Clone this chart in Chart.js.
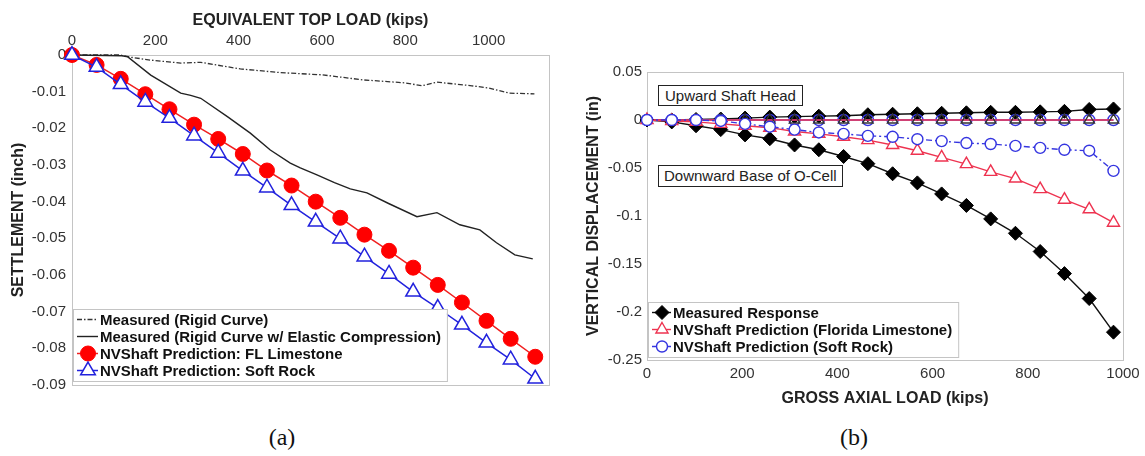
<!DOCTYPE html>
<html>
<head>
<meta charset="utf-8">
<title>Settlement and O-cell displacement</title>
<script src="https://cdn.jsdelivr.net/npm/chart.js@4.4.0/dist/chart.umd.min.js"></script>
<style>
  body { margin: 0; background: #fff; width: 1145px; height: 456px; position: relative; overflow: hidden;
         font-family: "Liberation Sans", Arial, sans-serif; }
  #chartA { position: absolute; left: 0; top: 0; }
  #chartB { position: absolute; left: 575px; top: 0; }
  .note { position: absolute; border: 1px solid #222; background: #fff; font-size: 15px; color: #222;
          white-space: nowrap; padding: 0 6px; box-sizing: border-box; }
  .cap { position: absolute; top: 423px; width: 40px; text-align: center;
         font-family: "Liberation Serif", "DejaVu Serif", serif; font-size: 24px; line-height: 28px; color: #111; }
</style>
</head>
<body>
<canvas id="chartA" width="570" height="400"></canvas>
<canvas id="chartB" width="570" height="420"></canvas>
<div class="note" style="left:658px; top:85px; height:21px; line-height:19px;">Upward Shaft Head</div>
<div class="note" style="left:658px; top:165px; height:22px; line-height:20px; padding:0 5px;">Downward Base of O-Cell</div>
<div class="cap" style="left:262px;">(a)</div>
<div class="cap" style="left:834px;">(b)</div>
<script>
// ---- (a) equivalent top load vs settlement ----
const xTicksA = [0, 200, 400, 600, 800, 1000];
const yTicksA = [-0.09, -0.08, -0.07, -0.06, -0.05, -0.04, -0.03, -0.02, -0.01, 0];
const yLabelsA = ['-0.09', '-0.08', '-0.07', '-0.06', '-0.05', '-0.04', '-0.03', '-0.02', '-0.01', '0'];

const rigidLoad = [0, 70, 115, 141, 189, 261, 309, 404, 500, 600, 700, 800, 840, 876, 960, 1000, 1050, 1110];
const rigidSettle = [0, 0, 0, -0.0006, -0.0014, -0.0022, -0.002, -0.0038, -0.0048, -0.0054, -0.0068, -0.0076, -0.0084, -0.0074, -0.0084, -0.009, -0.0104, -0.0106];

const elasticLoad = [0, 120, 134, 189, 261, 285, 309, 373, 428, 476, 524, 548, 588, 630, 668, 708, 760, 828, 876, 931, 979, 1019, 1063, 1106];
const elasticSettle = [0, -0.0002, -0.0005, -0.0055, -0.0104, -0.011, -0.0118, -0.0168, -0.0213, -0.0259, -0.0295, -0.0308, -0.0327, -0.0348, -0.0365, -0.0376, -0.0405, -0.0441, -0.043, -0.0463, -0.0477, -0.0512, -0.0545, -0.0556];

const loadA = [0, 59, 117, 176, 234, 293, 351, 410, 468, 527, 585, 644, 702, 761, 819, 878, 936, 995, 1053, 1112];
const limestoneA = [0, -0.0027, -0.0065, -0.0107, -0.0148, -0.019, -0.0229, -0.027, -0.0315, -0.0356, -0.040, -0.0444, -0.049, -0.0534, -0.058, -0.0627, -0.0675, -0.0725, -0.0774, -0.0823];
const softRockA = [0, -0.0033, -0.008, -0.0128, -0.0172, -0.022, -0.0267, -0.0316, -0.0362, -0.041, -0.0455, -0.0501, -0.055, -0.0597, -0.0646, -0.069, -0.0736, -0.0785, -0.0831, -0.0883];

// ---- (b) gross axial load vs vertical displacement ----
const xTicksB = [0, 200, 400, 600, 800, 1000];
const yTicksB = [-0.25, -0.2, -0.15, -0.1, -0.05, 0, 0.05];
const yLabelsB = ['-0.25', '-0.2', '-0.15', '-0.1', '-0.05', '0', '0.05'];

const loadB = [0, 52, 103, 155, 206, 258, 310, 361, 413, 464, 516, 568, 619, 671, 722, 774, 826, 877, 929, 980];
const measuredUp = [0, 0, 0.0005, 0.001, 0.002, 0.003, 0.0035, 0.004, 0.0045, 0.0055, 0.006, 0.0065, 0.007, 0.0075, 0.008, 0.008, 0.0085, 0.009, 0.011, 0.0115];
const limestoneUp = [0, 0, 0, 0, 0, 0, 0, 0, 0, 0, 0, 0, 0, 0, 0, 0, 0, 0, 0, 0];
const softRockUp = [0, 0, 0, 0, 0, 0, 0, 0, 0, 0, 0, 0, 0, 0, 0, 0, 0, 0, 0, 0];
const measuredDown = [0, -0.002, -0.006, -0.010, -0.0155, -0.0195, -0.026, -0.031, -0.038, -0.0455, -0.056, -0.0655, -0.077, -0.089, -0.103, -0.118, -0.137, -0.16, -0.186, -0.221];
const limestoneDown = [0, -0.001, -0.002, -0.004, -0.006, -0.008, -0.012, -0.0145, -0.0175, -0.021, -0.026, -0.032, -0.039, -0.046, -0.054, -0.061, -0.072, -0.083, -0.093, -0.107];
const softRockDown = [0, 0, 0, -0.001, -0.004, -0.007, -0.010, -0.013, -0.0145, -0.0165, -0.0175, -0.020, -0.022, -0.024, -0.025, -0.027, -0.029, -0.031, -0.032, -0.053];

const FONT = '"Liberation Sans", Arial, sans-serif';
Chart.defaults.font.family = FONT;
Chart.defaults.color = '#333';

function pts(xs, ys) {
  return xs.map((x, i) => ({ x: x, y: ys[i] }));
}

function drawMarker(ctx, style, x, y, r, fill, stroke, lw) {
  ctx.save();
  ctx.setLineDash([]);
  ctx.beginPath();
  if (style === 'circle') {
    ctx.arc(x, y, r, 0, Math.PI * 2);
  } else if (style === 'triangle') {
    let a = 0;
    ctx.moveTo(x + Math.sin(a) * r, y - Math.cos(a) * r);
    a += 2 * Math.PI / 3;
    ctx.lineTo(x + Math.sin(a) * r, y - Math.cos(a) * r);
    a += 2 * Math.PI / 3;
    ctx.lineTo(x + Math.sin(a) * r, y - Math.cos(a) * r);
  } else if (style === 'rectRot') {
    ctx.moveTo(x - r, y);
    ctx.lineTo(x, y - r);
    ctx.lineTo(x + r, y);
    ctx.lineTo(x, y + r);
  }
  ctx.closePath();
  ctx.fillStyle = fill;
  ctx.fill();
  ctx.lineWidth = lw;
  ctx.strokeStyle = stroke;
  ctx.stroke();
  ctx.restore();
}

// light grey box round the plot area, like the original axes
const frame = {
  id: 'frame',
  beforeDatasetsDraw(chart) {
    const a = chart.chartArea;
    const ctx = chart.ctx;
    ctx.save();
    ctx.strokeStyle = '#c4c4c4';
    ctx.lineWidth = 1;
    ctx.strokeRect(a.left + 0.5, a.top + 0.5, a.right - a.left, a.bottom - a.top);
    ctx.restore();
  }
};

// legend boxed in the lower left corner of the plot area
const legendBox = {
  id: 'legendBox',
  afterDraw(chart, args, opts) {
    const ctx = chart.ctx;
    const a = chart.chartArea;
    const items = opts.items;
    const rowH = 17;
    ctx.save();
    ctx.font = 'bold 15px ' + FONT;
    let w = 0;
    items.forEach(i => { w = Math.max(w, ctx.measureText(chart.data.datasets[i].label).width); });
    const boxW = w + opts.textX + 6;
    const boxH = items.length * rowH + 4;
    const x0 = a.left + 1;
    const y0 = a.bottom - opts.gap - boxH;
    ctx.fillStyle = '#fff';
    ctx.fillRect(x0, y0, boxW, boxH);
    ctx.strokeStyle = '#c4c4c4';
    ctx.lineWidth = 1;
    ctx.strokeRect(x0 + 0.5, y0 + 0.5, boxW, boxH);
    items.forEach((idx, k) => {
      const ds = chart.data.datasets[idx];
      const cy = y0 + 2 + rowH * k + rowH / 2;
      ctx.strokeStyle = ds.borderColor;
      ctx.lineWidth = ds.borderWidth;
      ctx.setLineDash(ds.borderDash || []);
      ctx.beginPath();
      ctx.moveTo(x0 + 4, cy);
      ctx.lineTo(x0 + opts.textX - 2, cy);
      ctx.stroke();
      ctx.setLineDash([]);
      if (ds.pointRadius > 0) {
        drawMarker(ctx, ds.pointStyle, x0 + opts.markX, cy, ds.pointRadius,
          ds.pointBackgroundColor, ds.pointBorderColor, ds.pointBorderWidth);
      }
      ctx.fillStyle = '#111';
      ctx.textBaseline = 'middle';
      ctx.textAlign = 'left';
      ctx.fillText(ds.label, x0 + opts.textX, cy + 1);
    });
    ctx.restore();
  }
};

function tickSetter(values) {
  return function (scale) {
    scale.ticks = values.map(v => ({ value: v }));
  };
}

// chart (a)
new Chart(document.getElementById('chartA'), {
  type: 'line',
  data: {
    datasets: [
      {
        label: 'Measured (Rigid Curve)',
        data: pts(rigidLoad, rigidSettle),
        borderColor: '#333', borderWidth: 1.3, borderDash: [5, 2, 1.5, 2],
        pointRadius: 0, order: 4
      },
      {
        label: 'Measured (Rigid Curve w/ Elastic Compression)',
        data: pts(elasticLoad, elasticSettle),
        borderColor: '#222', borderWidth: 1.4,
        pointRadius: 0, order: 3
      },
      {
        label: 'NVShaft Prediction: FL Limestone',
        data: pts(loadA, limestoneA),
        borderColor: '#f02020', borderWidth: 1.5,
        pointStyle: 'circle', pointRadius: 7.5,
        pointBackgroundColor: '#ff0000', pointBorderColor: '#ff0000', pointBorderWidth: 1,
        order: 2
      },
      {
        label: 'NVShaft Prediction: Soft Rock',
        data: pts(loadA, softRockA),
        borderColor: '#2222dd', borderWidth: 1.5,
        pointStyle: 'triangle', pointRadius: 8.5,
        pointBackgroundColor: '#fff', pointBorderColor: '#2222dd', pointBorderWidth: 1.5,
        order: 1
      }
    ]
  },
  options: {
    responsive: false,
    animation: false,
    events: [],
    clip: false,
    layout: { padding: { left: 0, top: 0, right: 21, bottom: 14 } },
    elements: { line: { tension: 0 } },
    plugins: {
      legend: { display: false },
      tooltip: { enabled: false },
      legendBox: { items: [0, 1, 2, 3], gap: 4, markX: 15, textX: 27 }
    },
    scales: {
      x: {
        type: 'linear', position: 'top', min: 0, max: 1145,
        grid: { display: false, drawTicks: false }, border: { display: false },
        afterBuildTicks: tickSetter(xTicksA),
        ticks: { padding: 5, color: '#333', font: { size: 15 }, callback: v => String(v) },
        title: { display: true, text: 'EQUIVALENT TOP LOAD (kips)', color: '#222',
                 font: { size: 16, weight: 'bold' }, padding: { top: 11, bottom: 0 } },
        afterFit: s => { s.height = 55; }
      },
      y: {
        type: 'linear', min: -0.09, max: 0,
        grid: { display: false, drawTicks: false }, border: { display: false },
        afterBuildTicks: tickSetter(yTicksA),
        ticks: { padding: 6, color: '#333', font: { size: 15 }, callback: (v, i) => yLabelsA[i] },
        title: { display: true, text: 'SETTLEMENT (inch)', color: '#222',
                 font: { size: 16, weight: 'bold' }, padding: { top: 9, bottom: 0 } },
        afterFit: s => { s.width = 72; }
      }
    }
  },
  plugins: [frame, legendBox]
});

// chart (b)
new Chart(document.getElementById('chartB'), {
  type: 'line',
  data: {
    datasets: [
      {
        label: 'Measured Response',
        data: pts(loadB, measuredDown),
        borderColor: '#111', borderWidth: 1.4,
        pointStyle: 'rectRot', pointRadius: 7,
        pointBackgroundColor: '#000', pointBorderColor: '#000', pointBorderWidth: 1,
        order: 3
      },
      {
        label: 'NVShaft Prediction (Florida Limestone)',
        data: pts(loadB, limestoneDown),
        borderColor: '#ee3350', borderWidth: 1.4,
        pointStyle: 'triangle', pointRadius: 7,
        pointBackgroundColor: '#fff', pointBorderColor: '#ee3350', pointBorderWidth: 1.4,
        order: 2
      },
      {
        label: 'NVShaft Prediction (Soft Rock)',
        data: pts(loadB, softRockDown),
        borderColor: '#3535e0', borderWidth: 1.4, borderDash: [6, 3, 2, 3],
        pointStyle: 'circle', pointRadius: 5.5,
        pointBackgroundColor: '#fff', pointBorderColor: '#3535e0', pointBorderWidth: 1.4,
        order: 1
      },
      {
        label: 'Measured Response (upward)',
        data: pts(loadB, measuredUp),
        borderColor: '#111', borderWidth: 1.4,
        pointStyle: 'rectRot', pointRadius: 7,
        pointBackgroundColor: '#000', pointBorderColor: '#000', pointBorderWidth: 1,
        order: 6
      },
      {
        label: 'NVShaft Prediction (Florida Limestone, upward)',
        data: pts(loadB, limestoneUp),
        borderColor: '#ee3350', borderWidth: 1.4,
        pointStyle: 'triangle', pointRadius: 6,
        pointBackgroundColor: 'rgba(255,255,255,0)', pointBorderColor: '#333', pointBorderWidth: 1.4,
        order: 4
      },
      {
        label: 'NVShaft Prediction (Soft Rock, upward)',
        data: pts(loadB, softRockUp),
        borderColor: '#4a3fd8', borderWidth: 1.4,
        pointStyle: 'circle', pointRadius: 5.5,
        pointBackgroundColor: 'rgba(255,255,255,0)', pointBorderColor: '#3535e0', pointBorderWidth: 1.4,
        order: 5
      }
    ]
  },
  options: {
    responsive: false,
    animation: false,
    events: [],
    clip: false,
    layout: { padding: { left: 0, top: 72, right: 22, bottom: 10 } },
    elements: { line: { tension: 0 } },
    plugins: {
      legend: { display: false },
      tooltip: { enabled: false },
      legendBox: { items: [0, 1, 2], gap: 3, markX: 14, textX: 25 }
    },
    scales: {
      x: {
        type: 'linear', position: 'bottom', min: 0, max: 1000,
        grid: { display: false, drawTicks: false }, border: { display: false },
        afterBuildTicks: tickSetter(xTicksB),
        ticks: { padding: 5, color: '#333', font: { size: 15 }, callback: v => String(v) },
        title: { display: true, text: 'GROSS AXIAL LOAD (kips)', color: '#222',
                 font: { size: 16, weight: 'bold' }, padding: { top: 0, bottom: 2 } },
        afterFit: s => { s.height = 50; }
      },
      y: {
        type: 'linear', min: -0.25, max: 0.05,
        grid: { display: false, drawTicks: false }, border: { display: false },
        afterBuildTicks: tickSetter(yTicksB),
        ticks: { padding: 5, color: '#333', font: { size: 15 }, callback: (v, i) => yLabelsB[i] },
        title: { display: true, text: 'VERTICAL DISPLACEMENT (in)', color: '#222',
                 font: { size: 16, weight: 'bold' }, padding: { top: 9, bottom: 0 } },
        afterFit: s => { s.width = 72; }
      }
    }
  },
  plugins: [frame, legendBox]
});
</script>
</body>
</html>
